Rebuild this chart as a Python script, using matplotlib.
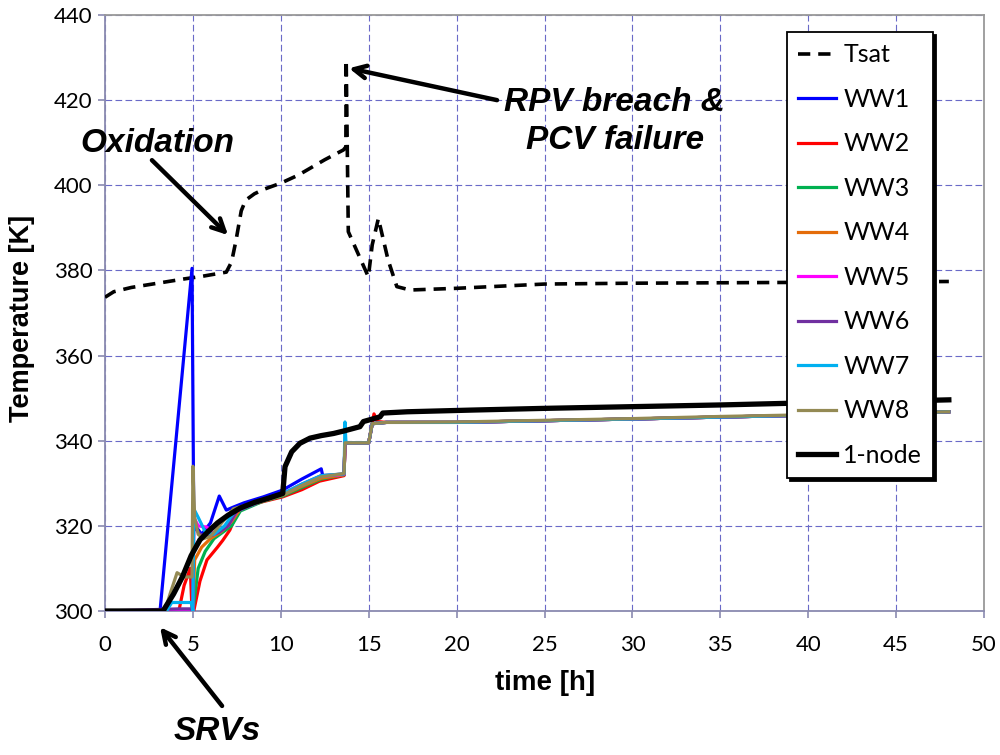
import matplotlib
matplotlib.use("Agg")
import matplotlib.pyplot as plt

# ---------------- data ----------------
tsat_t = [0, 0.5, 1.5, 3, 4.5, 5.5, 6.9, 7.2, 7.45, 7.75, 8.0, 8.5, 9.0, 10.0, 11.0, 12.5, 13.56, 13.7, 13.72, 13.84,
          14.98, 15.2, 15.55, 16.1, 16.6, 17.35, 20, 25, 30, 40, 48]
tsat_T = [373.7, 375, 376, 377, 378, 378.6, 379.6, 382, 387, 394, 396.5, 398, 399, 400.5, 402.4, 406, 408.3, 409,
          429.4, 389.1, 378.5, 386, 392.2, 382.5, 376.2, 375.4, 375.8, 376.8, 377, 377.2, 377.4]

ww1_t = [0, 3.13, 4.95, 5.05, 5.5, 6.0, 6.5, 6.9, 7.3, 7.9, 9.0, 10.1, 11.2, 12.3, 12.4, 13.6, 13.65, 15.0, 15.2, 16, 20, 30, 40, 48]
ww1_T = [300, 300, 380.5, 320.5, 318, 320.7, 327, 323.7, 324.4, 325.4, 326.8, 328.4, 331, 333.4, 331.5, 332, 339.5, 339.5, 344, 344.3, 344.3, 345.1, 346, 346.8]

ww2_t = [0, 4.2, 4.5, 4.85, 4.95, 5.05, 5.4, 5.8, 6.4, 6.7, 7.1, 7.5, 7.9, 9, 10.1, 11.2, 12.2, 13.6, 13.65, 15.0, 15.3, 15.5, 16, 20, 30, 40, 48]
ww2_T = [300, 300, 306, 310, 300, 300, 307, 312, 315, 316.6, 319, 323, 324.4, 325.7, 326.8, 328.5, 330.5, 331.8, 339.5, 339.5, 346.3, 344.5, 344.3, 344.3, 345.1, 346, 346.8]

ww3_t = [0, 5.0, 5.3, 5.7, 6.2, 6.7, 7.2, 7.7, 9, 10.1, 11.2, 12.3, 13.6, 13.65, 15.0, 15.2, 16, 20, 30, 40, 48]
ww3_T = [300, 300, 310, 314, 317, 318.5, 320, 323.5, 325.8, 327, 329, 331, 332, 339.5, 339.5, 344, 344.3, 344.3, 345.1, 346, 346.8]

ww4_t = [0, 5.0, 5.1, 5.5, 6.0, 6.6, 7.2, 7.7, 9, 10.1, 11.2, 12.3, 13.6, 13.65, 15.0, 15.2, 16, 20, 30, 40, 48]
ww4_T = [300, 300, 312, 315, 317, 318.6, 321, 324, 325.9, 327.2, 329.3, 331.2, 332, 339.5, 339.5, 344, 344.3, 344.3, 345.1, 346, 346.8]

ww5_t = [0, 5.0, 5.05, 5.3, 5.8, 6.2, 6.6, 7.0, 7.5, 9, 10.1, 11.2, 12.3, 13.6, 13.65, 15.0, 15.2, 16, 20, 30, 40, 48]
ww5_T = [300, 300, 322, 320, 319.7, 318, 319, 320, 323.5, 326, 327.4, 329.6, 331.6, 332.1, 339.5, 339.5, 344, 344.3, 344.3, 345.1, 346, 346.8]

ww6_t = [0, 4.2, 4.9, 5.0, 5.05, 5.4, 5.9, 6.5, 7.0, 7.5, 9, 10.1, 11.2, 12.3, 13.6, 13.65, 15.0, 15.2, 16, 20, 30, 40, 48]
ww6_T = [300, 300.5, 300.5, 300, 320, 318, 317.5, 318.5, 320, 323.5, 326, 327.5, 329.8, 331.8, 332.2, 339.5, 339.5, 344, 344.3, 344.3, 345.1, 346, 346.8]

ww7_t = [0, 3.5, 3.8, 4.9, 5.0, 5.05, 5.3, 5.7, 6.2, 6.8, 7.4, 9, 10.1, 11.2, 12.3, 13.6, 13.65, 13.7, 13.75, 15.0, 15.2, 16, 20, 30, 40, 48]
ww7_T = [300, 300, 302, 302, 300, 324, 322, 318.6, 318, 320, 323.5, 326, 327.5, 329.8, 331.8, 332.2, 344.4, 340, 339.5, 339.5, 344, 344.3, 344.3, 345.1, 346, 346.8]

ww8_t = [0, 3.4, 3.7, 4.1, 4.5, 4.95, 5.0, 5.1, 5.3, 5.6, 6.0, 6.5, 7.0, 7.3, 7.7, 9, 10.1, 11.2, 12.3, 13.6, 13.65, 15.0, 15.2, 16, 20, 25, 30, 35, 40, 48]
ww8_T = [300, 300, 304, 309, 308, 308, 334, 322, 318, 317, 317.5, 320, 322.5, 324, 324.5, 325.8, 327.2, 329.5, 331.5, 332.3, 339.5, 339.5, 344, 344.3, 344.4, 344.8, 345.2, 345.7, 346.1, 346.8]

node_t = [0, 3.3, 3.9, 4.4, 4.9, 5.4, 5.9, 6.4, 7.0, 7.7, 8.5, 9.3, 10.11, 10.24, 10.62, 11.09, 11.66, 12.3, 13.0, 13.6,
          14.5, 14.7, 15.64, 15.8, 17.2, 20.9, 25, 30, 35, 40, 45, 48]
node_T = [300, 300, 304, 308, 313, 316.7, 318.8, 320.7, 322.5, 324.2, 325.5, 326.5, 327.6, 333.9, 337.4, 339.4, 340.6, 341.2,
          341.7, 342.3, 343.3, 344.5, 345.6, 346.5, 346.8, 347.2, 347.6, 348, 348.4, 348.9, 349.3, 349.6]

ww_series = [
    ("WW1", ww1_t, ww1_T, "#0000ff"),
    ("WW2", ww2_t, ww2_T, "#ff0000"),
    ("WW3", ww3_t, ww3_T, "#00b050"),
    ("WW4", ww4_t, ww4_T, "#e46c0a"),
    ("WW5", ww5_t, ww5_T, "#ff00ff"),
    ("WW6", ww6_t, ww6_T, "#7030a0"),
    ("WW7", ww7_t, ww7_T, "#00b0f0"),
    ("WW8", ww8_t, ww8_T, "#948a54"),
]

x_ticks = [0, 5, 10, 15, 20, 25, 30, 35, 40, 45, 50]
y_ticks = [300, 320, 340, 360, 380, 400, 420, 440]

# ---------------- figure ----------------
fig = plt.figure(figsize=(10, 7.55), dpi=100)
ax = fig.add_axes([0.105, 1 - 611 / 755, 0.984 - 0.105, (611 - 15) / 755])

ax.plot(tsat_t, tsat_T, color="black", lw=2.6, linestyle=(0, (3.4, 2.2)), label="Tsat", zorder=3)
for name, t, T, c in ww_series:
    ax.plot(t, T, color=c, lw=2.3, label=name, zorder=3)
ax.plot(node_t, node_T, color="black", lw=3.8, label="1-node", zorder=4)

ax.set_xlim(0, 50)
ax.set_ylim(300, 440)
ax.set_xticks(x_ticks)
ax.set_yticks(y_ticks)

grid_c = "#6a6ac8"
ax.grid(True, color=grid_c, linestyle=(0, (6, 3)), lw=0.8)
ax.set_axisbelow(True)
spine_c = "#8a8ab0"
for s in ax.spines.values():
    s.set_color(spine_c)
    s.set_linewidth(1.3)
ax.spines["top"].set_color("#999999")
ax.spines["right"].set_color("#999999")

ax.tick_params(axis="both", direction="out", length=5, width=1.2, color=spine_c, labelsize=16)
ax.tick_params(axis="x", pad=12)
ax.tick_params(axis="y", pad=4)
for lab in ax.get_xticklabels() + ax.get_yticklabels():
    lab.set_family("Lato")

fig.text(22 / 1000, 1 - 318 / 755, "Temperature [K]", rotation=90, ha="center", va="center",
         fontsize=19.5, fontweight="bold", family="Liberation Sans")
fig.text(545 / 1000, 1 - 683 / 755, "time [h]", ha="center", va="center",
         fontsize=20, fontweight="bold", family="Liberation Sans")

leg = ax.legend(loc="upper left", bbox_to_anchor=(787 / 1000, 1 - 32 / 755), bbox_transform=fig.transFigure,
                borderaxespad=0, fancybox=False, shadow={"color": "black", "alpha": 1.0},
                frameon=True, handlelength=1.5, handletextpad=0.3, labelspacing=0.86,
                prop={"family": "Lato", "size": 18}, borderpad=0.45)
leg.get_frame().set_edgecolor("black")
leg.get_frame().set_linewidth(1.3)
leg.set_zorder(10)

# ---------------- annotations ----------------
afont = dict(fontsize=24, fontweight="bold", fontstyle="italic", family="Liberation Sans")
aprops = dict(arrowstyle="->,head_length=0.9,head_width=0.45", lw=3.2, color="black",
              shrinkA=0, shrinkB=0)

ax.text(2.96, 409.9, "Oxidation", ha="center", va="center", **afont)
ax.annotate("", xy=(7.0, 388.3), xytext=(2.67, 405.9), arrowprops=aprops, annotation_clip=False)

ax.text(29.0, 415.0, "RPV breach &\nPCV failure", ha="center", va="center",
        multialignment="center", linespacing=1.3, **afont)
ax.annotate("", xy=(13.88, 427.5), xytext=(22.3, 420.0), arrowprops=aprops, annotation_clip=False)

ax.text(6.37, 271.6, "SRVs", ha="center", va="center", clip_on=False, **afont)
ax.annotate("", xy=(3.13, 296.2), xytext=(6.66, 277.7), arrowprops=aprops, annotation_clip=False)

fig.savefig("out.png", dpi=100)
